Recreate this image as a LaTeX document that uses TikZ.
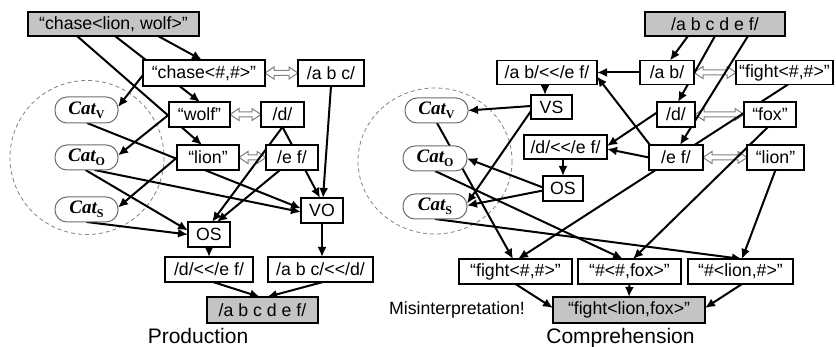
\documentclass[tikz,border=0pt]{standalone}
\usepackage{fontspec}
\setmainfont{Liberation Sans}
\newfontfamily\catfont{Liberation Serif}
\usetikzlibrary{arrows.meta,calc}
\pgfdeclarelayer{bg}
\pgfsetlayers{bg,main}
\definecolor{boxgray}{RGB}{196,196,196}
\definecolor{linegray}{RGB}{130,130,130}
\definecolor{catgray}{RGB}{110,110,110}
\newcommand{\ltlt}{<\kern0pt<}
\newcommand{\catlabel}[1]{{\catfont\bfseries\itshape Cat}\raisebox{-0.4ex}{\catfont\bfseries\fontsize{6}{6}\selectfont #1}}
\newcommand{\hollowarrow}[2]{%
  \draw[hollow] (#1.east) -- ++(9,-6) -- ++(0,3.5) -- ($(#2.west)+(-9,-2.5)$) -- ++(0,-3.5)
   -- (#2.west) -- ++(-9,6) -- ++(0,-3.5) -- ($(#1.east)+(9,2.5)$) -- ++(0,3.5) -- cycle;}
\tikzset{
  sz/.style 2 args={minimum width=#1*0.5pt, minimum height=#2*0.5pt},
  box/.style={draw, line width=0.75pt, fill=white, inner sep=0pt, outer sep=0pt,
    font=\fontsize{8.85}{10}\selectfont},
  gbox/.style={box, line width=1.25pt, fill=boxgray},
  tbox/.style={box, line width=1.25pt},
  cat/.style={draw=catgray, line width=0.5pt, fill=white, rounded corners=6pt,
    inner sep=0pt, outer sep=0pt, font=\fontsize{9.5}{10}\selectfont},
  plain/.style={inner sep=0pt, font=\fontsize{8.85}{10}\selectfont},
  title/.style={inner sep=0pt, font=\fontsize{10.5}{12}\selectfont},
  conn/.style={line width=1pt, -{Latex[length=5pt,width=4.5pt]}},
  hollow/.style={draw=linegray, line width=0.5pt, fill=white, line join=miter},
  dcirc/.style={draw=linegray, line width=0.4pt, dash pattern=on 2pt off 1.5pt}
}
\begin{document}
\begin{tikzpicture}[x=0.5pt,y=-0.5pt]
\begin{pgfonlayer}{bg}
\fill[white] (0,0) rectangle (836,347);
\end{pgfonlayer}
\useasboundingbox (0,0) rectangle (836,347);

% ---------- Production ----------
\node[gbox, sz={171}{24}] (clw) at (113.5,24) {“chase<lion, wolf>”};
\node[box, sz={122}{26}] (chs) at (204,73) {“chase<\#,\#>”};
\node[box, sz={66}{26}] (abc) at (331,73) {/a b c/};
\node[cat, sz={63}{26}] (cvL) at (86.5,110) {\catlabel{V}};
\node[box, sz={61}{25}] (wolf) at (199.5,114.5) {“wolf”};
\node[box, sz={43}{25}] (dL) at (282.5,114.5) {/d/};
\node[cat, sz={63}{25}] (coL) at (86.5,157.5) {\catlabel{O}};
\node[box, sz={62}{25}] (lionL) at (208,157.5) {“lion”};
\node[box, sz={52}{25}] (efL) at (292,157.5) {/e f/};
\node[cat, sz={63}{25}] (csL) at (86.5,209.5) {\catlabel{S}};
\node[box, sz={42}{25}] (VO) at (322,210.5) {VO};
\node[box, sz={42}{25}] (osL) at (209,234.5) {OS};
\node[box, sz={88}{25}] (doe) at (209,269.5) {/d/\ltlt/e f/};
\node[box, sz={105}{25}] (avd) at (320.5,269.5) {/a b c/\ltlt/d/};
\node[gbox, sz={111}{26}] (outL) at (262.5,310) {/a b c d e f/};
\node[title, anchor=base] (prod) at (198,344) {Production};

% ---------- Comprehension ----------
\node[gbox, sz={140}{24}] (inR) at (715,24) {/a b c d e f/};
\node[box, sz={100}{24}] (abe) at (547,72.5) {/a b/\ltlt/e f/};
\node[box, sz={54}{24}] (ab) at (667,72.5) {/a b/};
\node[box, sz={97}{24}] (fT) at (784.5,72.5) {“fight<\#,\#>”};
\node[box, sz={41}{24}] (VS) at (551.5,107) {VS};
\node[cat, sz={63}{25}] (cvR) at (436.5,110.5) {\catlabel{V}};
\node[box, sz={38}{25}] (dR) at (676,114.5) {/d/};
\node[box, sz={52}{25}] (fox) at (770,114.5) {“fox”};
\node[tbox, sz={83}{24}] (doeR) at (565.5,147) {/d/\ltlt/e f/};
\node[cat, sz={64}{25}] (coR) at (435,158.5) {\catlabel{O}};
\node[box, sz={54}{25}] (efR) at (676,157.5) {/e f/};
\node[box, sz={57}{25}] (lionR) at (775.5,157.5) {“lion”};
\node[box, sz={40}{25}] (osR) at (563,188.5) {OS};
\node[cat, sz={64}{25}] (csR) at (435,206.5) {\catlabel{S}};
\node[box, sz={113}{25}] (fB) at (515.5,271.5) {“fight<\#,\#>”};
\node[box, sz={103}{25}] (xfB) at (629.5,271.5) {“\#<\#,fox>”};
\node[box, sz={105}{25}] (lB) at (740.5,271.5) {“\#<lion,\#>”};
\node[gbox, sz={152}{26}] (outR) at (629,310) {“fight<lion,fox>”};
\node[plain] (mis) at (457,310) {Misinterpretation!};
\node[title, anchor=base] (comp) at (620.5,344) {Comprehension};

\begin{pgfonlayer}{bg}
\draw[dcirc] (87,157.5) circle[radius=77];
\draw[dcirc] (435,161) ellipse[x radius=77, y radius=73];

\hollowarrow{chs}{abc}
\hollowarrow{wolf}{dL}
\hollowarrow{lionL}{efL}
\hollowarrow{ab}{fT}
\hollowarrow{dR}{fox}
\hollowarrow{efR}{lionR}

% production connectors
\draw[conn] ($(clw.south)+(44.5,0)$) -- ($(chs.north)+(-2,0)$);
\draw[conn] ($(clw.south)+(1.5,0)$) -- ($(wolf.north)+(0.5,0)$);
\draw[conn] ($(clw.south)+(-36.5,0)$) -- ($(lionL.north)+(-6,0)$);
\draw[conn] ($(chs.west)+(0,2)$) -- ($(cvL.east)+(0,-3)$);
\draw[conn] (wolf.west) -- ($(coL.east)+(0,-2)$);
\draw[conn] (lionL.west) -- ($(csL.east)+(0,-2)$);
\draw[conn] ($(cvL.south)+(0.5,0)$) -- ($(VO.west)+(0,-2)$);
\draw[conn] ($(coL.south)+(8,0)$) -- ($(VO.west)+(0,1.5)$);
\draw[conn] ($(coL.south)+(-1,0)$) -- ($(osL.west)+(0,-4)$);
\draw[conn] (csL.south) -- (osL.west);
\draw[conn] (dL.south) -- ($(osL.north)+(3,0)$);
\draw[conn] (dL.south) -- ($(VO.north)+(-2,0)$);
\draw[conn] ($(efL.south)+(-12,0)$) -- ($(osL.north)+(8,0)$);
\draw[conn] (abc.south) -- ($(VO.north)+(1,0)$);
\draw[conn] (osL.south) -- (doe.north);
\draw[conn] (VO.south) -- ($(avd.north)+(1.5,0)$);
\draw[conn] ($(doe.south)+(4,0)$) -- ($(outL.north)+(-2.5,0)$);
\draw[conn] ($(avd.south)+(2.5,0)$) -- ($(outL.north)+(4.5,0)$);

% comprehension connectors
\draw[conn] ($(inR.south)+(-27,0)$) -- ($(ab.north)+(3,0)$);
\draw[conn] (inR.south) -- ($(dR.north)+(2,0)$);
\draw[conn] ($(inR.south)+(33,0)$) -- ($(efR.north)+(4,0)$);
\draw[conn] (ab.west) -- (abe.east);
\draw[conn] ($(efR.north west)+(1,0)$) -- ($(abe.east)+(0,4)$);
\draw[conn] ($(dR.west)+(0,-2)$) -- ($(doeR.east)+(0,-1)$);
\draw[conn] (efR.west) -- ($(doeR.east)+(0,2)$);
\draw[conn] ($(abe.south)+(-2,0)$) -- ($(VS.north)+(-6.5,0)$);
\draw[conn] ($(doeR.south)+(-2.5,0)$) -- (osR.north);
\draw[conn] ($(VS.west)+(0,-1)$) -- (cvR.east);
\draw[conn] ($(VS.west)+(0,4)$) -- ($(csR.east)+(0,-3)$);
\draw[conn] ($(osR.west)+(0,-1)$) -- (coR.east);
\draw[conn] ($(osR.west)+(0,2)$) -- ($(csR.east)+(0,-1)$);
\draw[conn] ($(cvR.south)+(0.5,0)$) -- ($(fB.north)+(-2.5,0)$);
\draw[conn] (coR.south) -- ($(xfB.north)+(-6.5,0)$);
\draw[conn] (csR.south) -- ($(lB.north)+(1.5,0)$);
\draw[conn] ($(fT.south)+(3.5,0)$) -- ($(fB.north)+(2.5,0)$);
\draw[conn] ($(fox.south)+(-2,0)$) -- ($(xfB.north)+(3.5,0)$);
\draw[conn] (lionR.south) -- ($(lB.north)+(1.5,0)$);
\draw[conn] (fB.south) -- ($(outR.west)+(0,-2)$);
\draw[conn] (xfB.south) -- (outR.north);
\draw[conn] ($(lB.south)+(1.5,0)$) -- ($(outR.east)+(0,-2)$);
\end{pgfonlayer}
\end{tikzpicture}
\end{document}
